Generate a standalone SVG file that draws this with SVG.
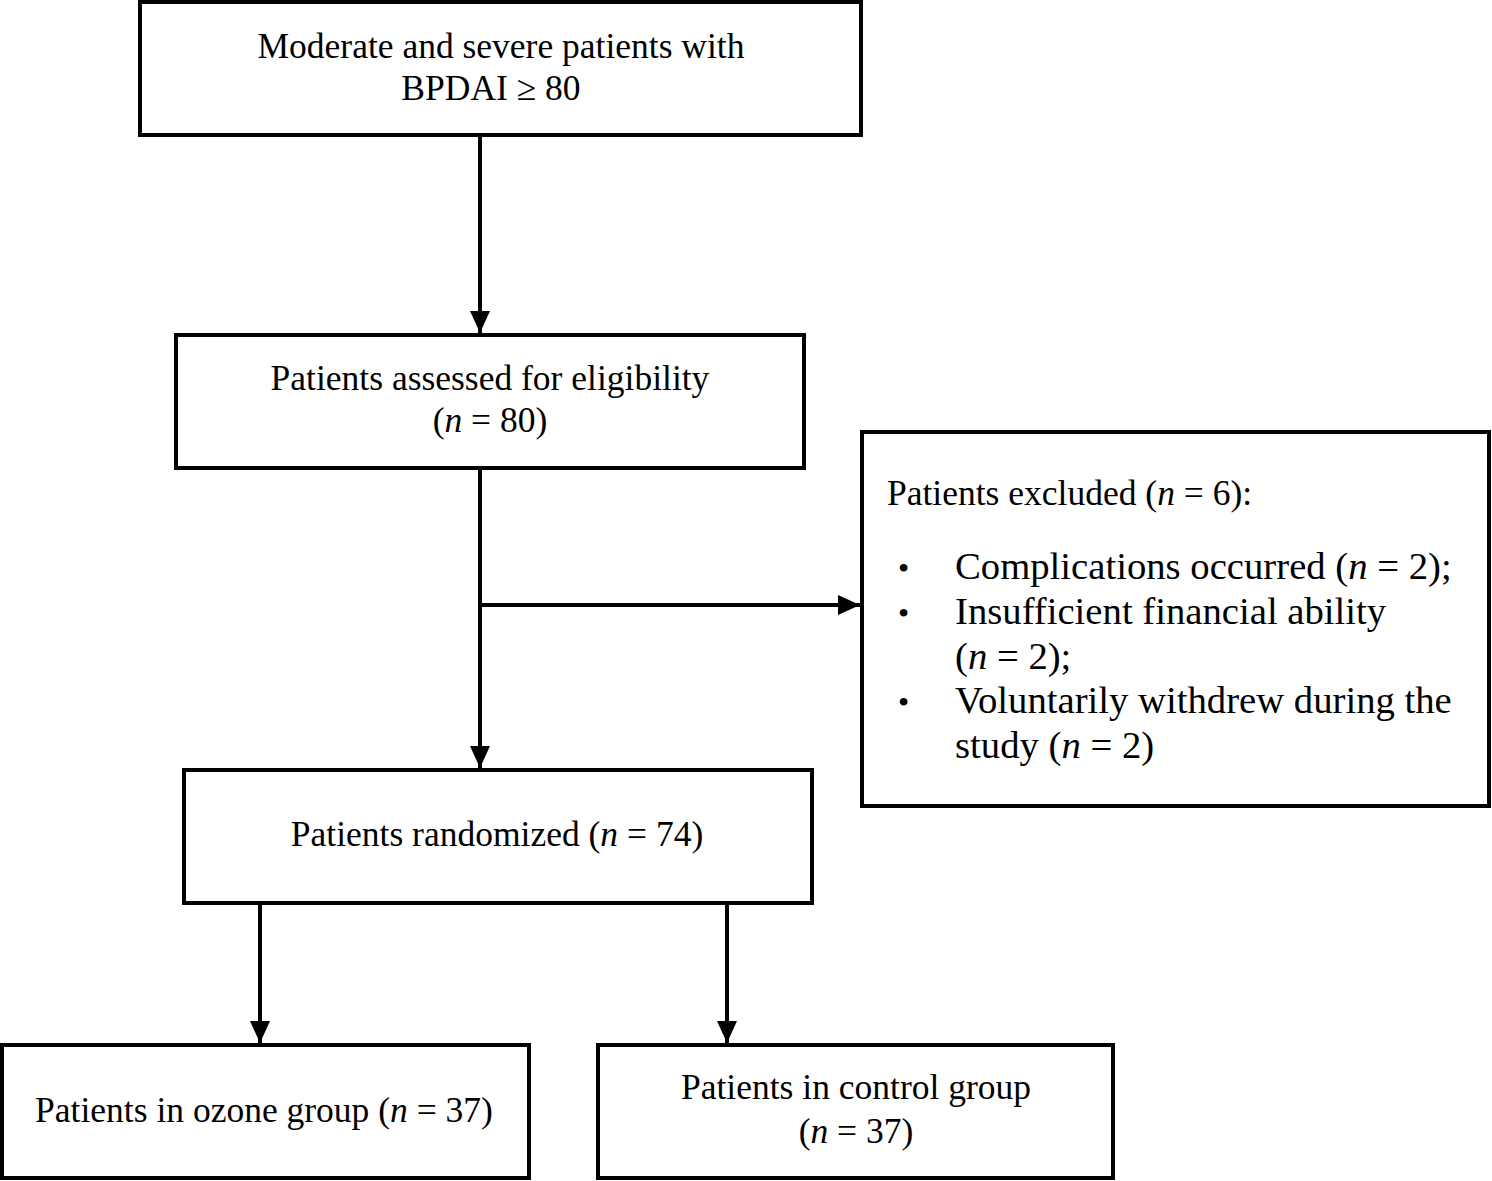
<svg xmlns="http://www.w3.org/2000/svg" width="1492" height="1181" viewBox="0 0 1492 1181">
<style>
.box{fill:#fff;stroke:#000;stroke-width:4}
.t{font-family:"Liberation Serif","Times New Roman",serif;font-size:35.5px;fill:#000}
.b{font-size:38.7px}
.d{font-size:32px}
.c{text-anchor:middle}
.line{stroke:#000;stroke-width:4;fill:none}
</style>
<defs>
<marker id="arr" markerWidth="22" markerHeight="20" refX="22" refY="10" orient="auto" markerUnits="userSpaceOnUse">
<path d="M0,0 L22,10 L0,20 z" fill="#000"/>
</marker>
</defs>
<rect width="1492" height="1181" fill="#fff"/>
<g id="connectors">
<path class="line" d="M480,135 V333" marker-end="url(#arr)"/>
<path class="line" d="M480,468 V768" marker-end="url(#arr)"/>
<path class="line" d="M480,605 H860" marker-end="url(#arr)"/>
<path class="line" d="M260,903 V1043" marker-end="url(#arr)"/>
<path class="line" d="M727,903 V1043" marker-end="url(#arr)"/>
</g>
<g id="n1">
<rect class="box" x="140" y="2" width="721" height="133"/>
<text class="t c" x="501" y="58">Moderate and severe patients with</text>
<text class="t c" x="491" y="100">BPDAI ≥ 80</text>
</g>
<g id="n2">
<rect class="box" x="176" y="335" width="628" height="133"/>
<text class="t c" x="490" y="390">Patients assessed for eligibility</text>
<text class="t c" x="490" y="432">(<tspan font-style="italic">n</tspan> = 80)</text>
</g>
<g id="n3">
<rect class="box" x="862" y="432" width="627" height="374"/>
<text class="t" x="887" y="505">Patients excluded (<tspan font-style="italic">n</tspan> = 6):</text>
<text class="t d" x="898" y="579">•</text>
<text class="t b" x="955" y="579">Complications occurred (<tspan font-style="italic">n</tspan> = 2);</text>
<text class="t d" x="898" y="624">•</text>
<text class="t b" x="955" y="624">Insufficient financial ability</text>
<text class="t b" x="955" y="669">(<tspan font-style="italic">n</tspan> = 2);</text>
<text class="t d" x="898" y="713">•</text>
<text class="t b" x="955" y="713">Voluntarily withdrew during the</text>
<text class="t b" x="955" y="758">study (<tspan font-style="italic">n</tspan> = 2)</text>
</g>
<g id="n4">
<rect class="box" x="184" y="770" width="628" height="133"/>
<text class="t c" x="497" y="846">Patients randomized (<tspan font-style="italic">n</tspan> = 74)</text>
</g>
<g id="n5">
<rect class="box" x="2" y="1045" width="527" height="133"/>
<text class="t c" x="264" y="1122">Patients in ozone group (<tspan font-style="italic">n</tspan> = 37)</text>
</g>
<g id="n6">
<rect class="box" x="598" y="1045" width="515" height="133"/>
<text class="t c" x="856" y="1099">Patients in control group</text>
<text class="t c" x="856" y="1143">(<tspan font-style="italic">n</tspan> = 37)</text>
</g>
</svg>
